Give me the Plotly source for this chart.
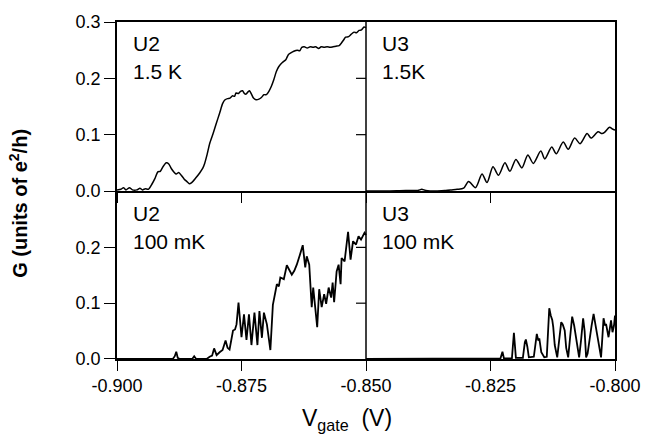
import plotly.graph_objects as go

# Gate voltage (V) and conductance G (units of e^2/h) for each device / temperature
U2_15K_V = [-0.9000, -0.8992, -0.8987, -0.8982, -0.8975, -0.8969, -0.8960, -0.8954, -0.8949, -0.8943,
            -0.8937, -0.8930, -0.8924, -0.8918, -0.8913, -0.8907, -0.8901, -0.8896, -0.8891, -0.8885,
            -0.8881, -0.8876, -0.8871, -0.8865, -0.8860, -0.8855, -0.8850, -0.8842, -0.8834, -0.8828,
            -0.8824, -0.8819, -0.8814, -0.8807, -0.8801, -0.8794, -0.8788, -0.8783, -0.8778, -0.8773,
            -0.8768, -0.8764, -0.8761, -0.8756, -0.8752, -0.8748, -0.8744, -0.8741, -0.8737, -0.8734,
            -0.8730, -0.8726, -0.8721, -0.8715, -0.8710, -0.8705, -0.8700, -0.8695, -0.8690, -0.8685,
            -0.8680, -0.8675, -0.8668, -0.8661, -0.8656, -0.8651, -0.8645, -0.8638, -0.8633, -0.8629,
            -0.8624, -0.8618, -0.8612, -0.8606, -0.8601, -0.8595, -0.8590, -0.8584, -0.8578, -0.8572,
            -0.8566, -0.8560, -0.8554, -0.8550, -0.8545, -0.8541, -0.8535, -0.8530, -0.8524, -0.8519,
            -0.8514, -0.8509, -0.8504, -0.8500]
U2_15K_G = [0.002, 0.003, 0.006, 0.002, 0.006, 0.002, 0.002, 0.005, 0.002, 0.004,
            0.003, 0.012, 0.022, 0.034, 0.035, 0.044, 0.050, 0.048, 0.040, 0.033,
            0.030, 0.033, 0.028, 0.021, 0.017, 0.013, 0.015, 0.023, 0.032, 0.040,
            0.049, 0.065, 0.084, 0.102, 0.119, 0.138, 0.155, 0.162, 0.164, 0.165,
            0.169, 0.168, 0.174, 0.173, 0.177, 0.178, 0.173, 0.172, 0.176, 0.178,
            0.172, 0.165, 0.162, 0.163, 0.166, 0.171, 0.171, 0.177, 0.186, 0.198,
            0.212, 0.221, 0.228, 0.233, 0.242, 0.245, 0.248, 0.250, 0.249, 0.255,
            0.256, 0.254, 0.256, 0.255, 0.256, 0.253, 0.256, 0.255, 0.256, 0.255,
            0.256, 0.257, 0.258, 0.262, 0.268, 0.273, 0.274, 0.278, 0.282, 0.281,
            0.285, 0.286, 0.291, 0.290]

U3_15K_V = [-0.8500, -0.8460, -0.8420, -0.8396, -0.8388, -0.8380, -0.8360, -0.8340, -0.8328, -0.8317,
            -0.8304, -0.8294, -0.8280, -0.8267, -0.8257, -0.8245, -0.8234, -0.8221, -0.8211, -0.8199,
            -0.8187, -0.8175, -0.8164, -0.8149, -0.8141, -0.8127, -0.8118, -0.8104, -0.8094, -0.8081,
            -0.8070, -0.8056, -0.8048, -0.8034, -0.8026, -0.8021, -0.8011, -0.8005, -0.8000]
U3_15K_G = [0.000, 0.000, 0.001, 0.001, 0.003, 0.001, 0.000, 0.001, 0.002, 0.003,
            0.005, 0.017, 0.006, 0.030, 0.015, 0.043, 0.028, 0.050, 0.035, 0.056,
            0.041, 0.064, 0.049, 0.071, 0.057, 0.078, 0.066, 0.087, 0.074, 0.094,
            0.084, 0.102, 0.094, 0.105, 0.102, 0.104, 0.113, 0.110, 0.108]

U2_100mK_V = [-0.9000, -0.8888, -0.8884, -0.8881, -0.8878, -0.8874, -0.8849, -0.8845, -0.8841, -0.8820,
              -0.8814, -0.8809, -0.8805, -0.8800, -0.8794, -0.8788, -0.8782, -0.8778, -0.8774, -0.8770,
              -0.8767, -0.8763, -0.8760, -0.8756, -0.8753, -0.8750, -0.8745, -0.8740, -0.8735, -0.8730,
              -0.8724, -0.8718, -0.8714, -0.8709, -0.8705, -0.8699, -0.8692, -0.8687, -0.8679, -0.8675,
              -0.8672, -0.8665, -0.8659, -0.8655, -0.8649, -0.8644, -0.8639, -0.8633, -0.8627, -0.8622,
              -0.8619, -0.8614, -0.8609, -0.8606, -0.8602, -0.8598, -0.8594, -0.8589, -0.8584, -0.8580,
              -0.8575, -0.8570, -0.8567, -0.8564, -0.8559, -0.8555, -0.8551, -0.8549, -0.8543, -0.8536,
              -0.8531, -0.8526, -0.8520, -0.8515, -0.8510, -0.8503, -0.8500]
U2_100mK_G = [0.000, 0.000, 0.005, 0.013, 0.002, 0.000, 0.000, 0.005, 0.000, 0.000,
              0.004, 0.006, 0.019, 0.007, 0.012, 0.016, 0.033, 0.020, 0.017, 0.040,
              0.051, 0.053, 0.062, 0.101, 0.070, 0.039, 0.080, 0.034, 0.080, 0.025,
              0.083, 0.025, 0.086, 0.038, 0.083, 0.062, 0.016, 0.097, 0.134, 0.130,
              0.146, 0.143, 0.168, 0.160, 0.151, 0.158, 0.169, 0.186, 0.204, 0.164,
              0.184, 0.169, 0.093, 0.128, 0.087, 0.057, 0.125, 0.093, 0.116, 0.099,
              0.128, 0.110, 0.137, 0.102, 0.157, 0.169, 0.134, 0.181, 0.175, 0.228,
              0.178, 0.211, 0.205, 0.220, 0.214, 0.226, 0.222]

U3_100mK_V = [-0.8500, -0.8250, -0.8240, -0.8230, -0.8226, -0.8223, -0.8207, -0.8203, -0.8199, -0.8185,
              -0.8181, -0.8179, -0.8176, -0.8173, -0.8163, -0.8160, -0.8157, -0.8154, -0.8152, -0.8148,
              -0.8142, -0.8137, -0.8134, -0.8132, -0.8129, -0.8126, -0.8124, -0.8121, -0.8116, -0.8112,
              -0.8108, -0.8105, -0.8101, -0.8098, -0.8094, -0.8090, -0.8086, -0.8082, -0.8078, -0.8072,
              -0.8068, -0.8064, -0.8061, -0.8058, -0.8055, -0.8051, -0.8047, -0.8043, -0.8039, -0.8034,
              -0.8028, -0.8026, -0.8023, -0.8020, -0.8018, -0.8013, -0.8008, -0.8005, -0.8002, -0.8000]
U3_100mK_G = [0.000, 0.000, 0.001, 0.001, 0.013, 0.001, 0.001, 0.047, 0.002, 0.002,
              0.030, 0.035, 0.022, 0.003, 0.004, 0.030, 0.045, 0.033, 0.037, 0.012,
              0.003, 0.004, 0.060, 0.091, 0.078, 0.070, 0.057, 0.025, 0.003, 0.035,
              0.066, 0.062, 0.051, 0.020, 0.003, 0.040, 0.076, 0.060, 0.034, 0.003,
              0.035, 0.073, 0.050, 0.003, 0.010, 0.039, 0.060, 0.081, 0.060, 0.027,
              0.003, 0.030, 0.073, 0.060, 0.063, 0.039, 0.069, 0.048, 0.060, 0.078]

X_TICKS = [-0.900, -0.875, -0.850, -0.825, -0.800]
X_TICK_TEXT = ["-0.900", "-0.875", "-0.850", "-0.825", "-0.800"]
Y_TICKS_TOP = [0.0, 0.1, 0.2, 0.3]
Y_TICKS_BOTTOM = [0.0, 0.1, 0.2]
PANEL_LABELS = [("U2", "1.5 K"), ("U3", "1.5K"), ("U2", "100 mK"), ("U3", "100 mK")]

FONT = "Liberation Sans, Arial, sans-serif"
INK = "black"

fig = go.Figure()
fig.add_trace(go.Scatter(x=U2_15K_V, y=U2_15K_G, xaxis="x2", yaxis="y2", mode="lines",
                         line=dict(color=INK, width=1.5, shape="spline", smoothing=0.6)))
fig.add_trace(go.Scatter(x=U3_15K_V, y=U3_15K_G, xaxis="x2", yaxis="y2", mode="lines",
                         line=dict(color=INK, width=1.5, shape="spline", smoothing=0.8)))
fig.add_trace(go.Scatter(x=U2_100mK_V, y=U2_100mK_G, xaxis="x", yaxis="y", mode="lines",
                         line=dict(color=INK, width=1.8)))
fig.add_trace(go.Scatter(x=U3_100mK_V, y=U3_100mK_G, xaxis="x", yaxis="y", mode="lines",
                         line=dict(color=INK, width=1.8)))

split = 0.4985
axis_common = dict(showgrid=False, zeroline=False, showline=True, linecolor=INK, linewidth=1.5,
                   ticks="outside", tickcolor=INK, tickwidth=1.2,
                   tickfont=dict(family=FONT, size=18, color=INK))

fig.update_layout(
    width=653, height=434,
    margin=dict(l=117, r=34, t=18, b=75),
    paper_bgcolor="white", plot_bgcolor="white",
    showlegend=False,
    # lower x axis: labelled; its top edge is drawn by the upper panel's axis line
    xaxis=dict(range=[-0.9, -0.8], anchor="y", domain=[0, 1], tickmode="array", mirror=False,
               tickvals=X_TICKS, ticktext=X_TICK_TEXT, ticklen=10, **axis_common),
    xaxis2=dict(range=[-0.9, -0.8], anchor="y2", domain=[0, 1], matches="x", tickmode="array",
                mirror=True, tickvals=X_TICKS, showticklabels=False, ticklen=10, **axis_common),
    yaxis=dict(range=[0, 0.301], domain=[0, split], anchor="x", tickmode="array", mirror=True,
               tickvals=Y_TICKS_BOTTOM, ticktext=["%.1f" % v for v in Y_TICKS_BOTTOM],
               ticklen=11, **axis_common),
    yaxis2=dict(range=[0, 0.3], domain=[split, 1], anchor="x2", tickmode="array", mirror=True,
                tickvals=Y_TICKS_TOP, ticktext=["%.1f" % v for v in Y_TICKS_TOP],
                ticklen=11, **axis_common),
)

# Divider between the two gate-voltage windows, with its own inward ticks
fig.add_shape(type="line", xref="x", yref="paper", x0=-0.85, x1=-0.85, y0=0, y1=1,
              line=dict(color=INK, width=1.5))
for yref, vals in (("y2", Y_TICKS_TOP[1:3]), ("y", Y_TICKS_BOTTOM[1:3])):
    for v in vals:
        fig.add_shape(type="line", xref="x", yref=yref, xsizemode="pixel", xanchor=-0.85,
                      x0=-10, x1=0, y0=v, y1=v, line=dict(color=INK, width=1.2))

# Panel labels
label_pos = [(0.028, 0.9375, 0.852), (0.529, 0.9375, 0.852),
             (0.028, 0.432, 0.349), (0.529, 0.432, 0.349)]
for (dev, temp), (xp, y1, y2) in zip(PANEL_LABELS, label_pos):
    for txt, yp in ((dev, y1), (temp, y2)):
        fig.add_annotation(text=txt, xref="paper", yref="paper", x=xp, y=yp,
                           xanchor="left", yanchor="middle", showarrow=False,
                           font=dict(family=FONT, size=21, color=INK))

# Axis titles
fig.add_annotation(text="G (units of e<sup>2</sup>/h)", xref="paper", yref="paper",
                   x=-0.197, y=0.463, textangle=-90, showarrow=False,
                   xanchor="center", yanchor="middle",
                   font=dict(family=FONT, size=20, color=INK, weight="bold"))
fig.add_annotation(text="V<sub>gate</sub>  (V)", xref="paper", yref="paper",
                   x=0.462, y=-0.18, showarrow=False, xanchor="center", yanchor="middle",
                   font=dict(family=FONT, size=23, color=INK))

fig.write_html("out.html")
